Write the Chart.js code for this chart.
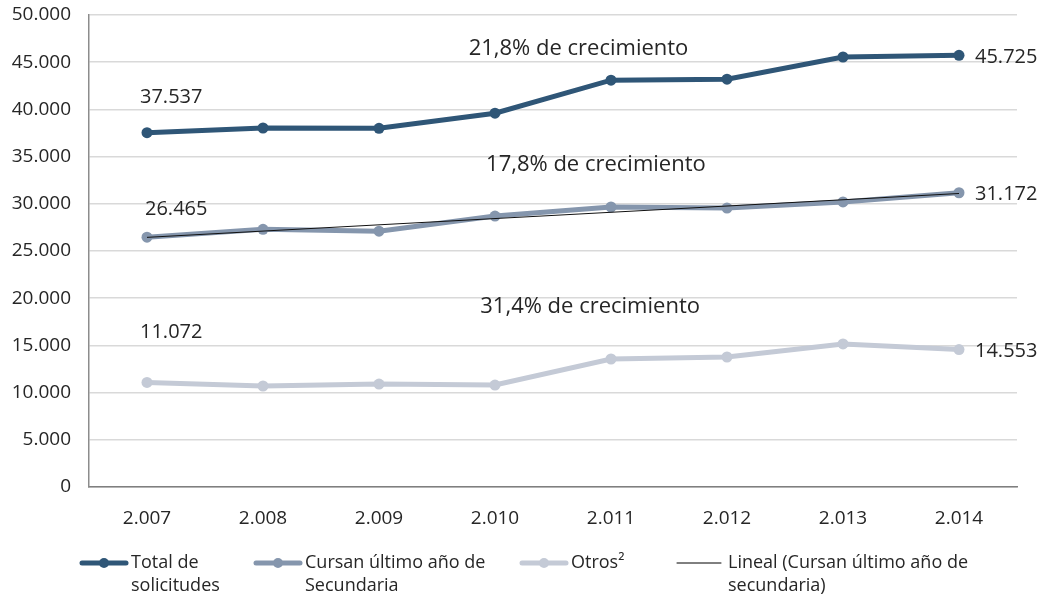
<!DOCTYPE html>
<html>
<head>
<meta charset="utf-8">
<script src="https://cdn.jsdelivr.net/npm/chart.js@4.4.1/dist/chart.umd.min.js"></script>
<style>
  html, body { margin: 0; padding: 0; background: #fff; }
  #wrap { width: 1041px; height: 598px; }
</style>
</head>
<body>
<div id="wrap"><canvas id="grafico" width="1041" height="598"></canvas></div>
<script>
// datos
const anios = ['2.007', '2.008', '2.009', '2.010', '2.011', '2.012', '2.013', '2.014'];
const total = [37537, 38030, 38000, 39600, 43100, 43200, 45550, 45725];
const cursan = [26465, 27300, 27100, 28700, 29660, 29550, 30200, 31172];
const otros = [11072, 10700, 10900, 10800, 13560, 13770, 15150, 14553];
const yTicks = [0, 5000, 10000, 15000, 20000, 25000, 30000, 35000, 40000, 45000, 50000];

// textos de crecimiento: [texto, posicion en categorias, valor]
const notas = [
    ['21,8% de crecimiento', 3.72, 46400],
    ['17,8% de crecimiento', 3.87, 34100],
    ['31,4% de crecimiento', 3.82, 19070]
];

// tendencia lineal (minimos cuadrados) de "Cursan"
function lineal(v) {
    const n = v.length;
    const mx = (n - 1) / 2;
    const my = v.reduce((a, b) => a + b, 0) / n;
    let num = 0, den = 0;
    v.forEach((y, i) => { num += (i - mx) * (y - my); den += (i - mx) * (i - mx); });
    const m = num / den;
    return v.map((_, i) => my + m * (i - mx));
}
const tendencia = lineal(cursan);

const fuente = "'Open Sans', sans-serif";
const texto = '#262626';
const miles = v => String(v).replace(/\B(?=(\d{3})+(?!\d))/g, '.');

// series con su color y desplazamiento de la etiqueta inicial
const series = [
    { label: ['Total de', 'solicitudes'], data: total, color: '#2f5677', dx: -7, dy: -35 },
    { label: ['Cursan último año de', 'Secundaria'], data: cursan, color: '#8596ad', dx: -2, dy: -28 },
    { label: ['Otros²'], data: otros, color: '#c4cad6', dx: -7, dy: -50 }
];

// etiquetas de datos, notas y leyenda
const extras = {
    id: 'extras',
    afterDatasetsDraw(chart) {
        const ctx = chart.ctx;
        const x = chart.scales.x, y = chart.scales.y;
        ctx.save();
        ctx.fillStyle = texto;
        ctx.font = '20px ' + fuente;
        ctx.textBaseline = 'middle';
        series.forEach(s => {
            const d = s.data;
            const last = d.length - 1;
            ctx.textAlign = 'left';
            ctx.fillText(miles(d[0]), x.getPixelForValue(0) + s.dx, y.getPixelForValue(d[0]) + s.dy);
            ctx.fillText(miles(d[last]), x.getPixelForValue(last) + 16, y.getPixelForValue(d[last]) + 2);
        });
        ctx.textAlign = 'center';
        ctx.font = '22px ' + fuente;
        notas.forEach(n => {
            ctx.fillText(n[0], x.getPixelForValue(n[1]), y.getPixelForValue(n[2]));
        });

        // leyenda
        const ly = 563;
        const items = [
            { x: 80, s: series[0] },
            { x: 254, s: series[1] },
            { x: 520, s: series[2] },
            { x: 677, s: { label: ['Lineal (Cursan último año de', 'secundaria)'], color: '#000', lineal: true } }
        ];
        ctx.textAlign = 'left';
        ctx.font = '18px ' + fuente;
        items.forEach(it => {
            ctx.strokeStyle = it.s.color;
            ctx.lineCap = 'round';
            if (it.s.lineal) {
                ctx.lineWidth = 1;
                ctx.beginPath(); ctx.moveTo(it.x, ly); ctx.lineTo(it.x + 44, ly); ctx.stroke();
            } else {
                ctx.lineWidth = 5;
                ctx.beginPath(); ctx.moveTo(it.x + 2, ly); ctx.lineTo(it.x + 46, ly); ctx.stroke();
                ctx.fillStyle = it.s.color;
                ctx.beginPath(); ctx.arc(it.x + 24, ly, 5, 0, Math.PI * 2); ctx.fill();
            }
            ctx.fillStyle = texto;
            it.s.label.forEach((t, i) => ctx.fillText(t, it.x + 51, ly + i * 23));
        });
        ctx.restore();
    }
};

new Chart(document.getElementById('grafico'), {
    type: 'line',
    data: {
        labels: anios,
        datasets: [
            {
                label: 'Lineal (Cursan último año de secundaria)',
                data: tendencia,
                borderColor: '#111',
                borderWidth: 1,
                pointRadius: 0,
                order: 0
            },
            ...series.map((s, i) => ({
                label: s.label.join(' '),
                data: s.data,
                borderColor: s.color,
                backgroundColor: s.color,
                borderWidth: 5,
                pointRadius: 5.5,
                pointBorderWidth: 0,
                pointHoverRadius: 5.5,
                order: 1 + i
            }))
        ]
    },
    options: {
        responsive: false,
        animation: false,
        layout: { padding: { top: 15, right: 24, bottom: 66, left: 0 } },
        plugins: {
            legend: { display: false },
            tooltip: { enabled: false }
        },
        scales: {
            x: {
                offset: true,
                grid: { display: false, drawTicks: false },
                border: { color: '#7f7f7f', width: 1.5 },
                ticks: { color: texto, font: { family: fuente, size: 19 }, padding: 20 },
                afterFit: s => { s.height = 45; }
            },
            y: {
                min: 0,
                max: 50000,
                afterBuildTicks: s => { s.ticks = yTicks.map(v => ({ value: v })); },
                grid: { color: '#d9d9d9', lineWidth: 1.5, drawTicks: false },
                border: { color: '#8c8c8c', width: 1.5 },
                ticks: { color: texto, font: { family: fuente, size: 19 }, padding: 18, callback: v => miles(v) },
                afterFit: s => { s.width = 89; s.paddingTop = 0; s.paddingBottom = 0; }
            }
        }
    },
    plugins: [extras]
});
</script>
</body>
</html>
